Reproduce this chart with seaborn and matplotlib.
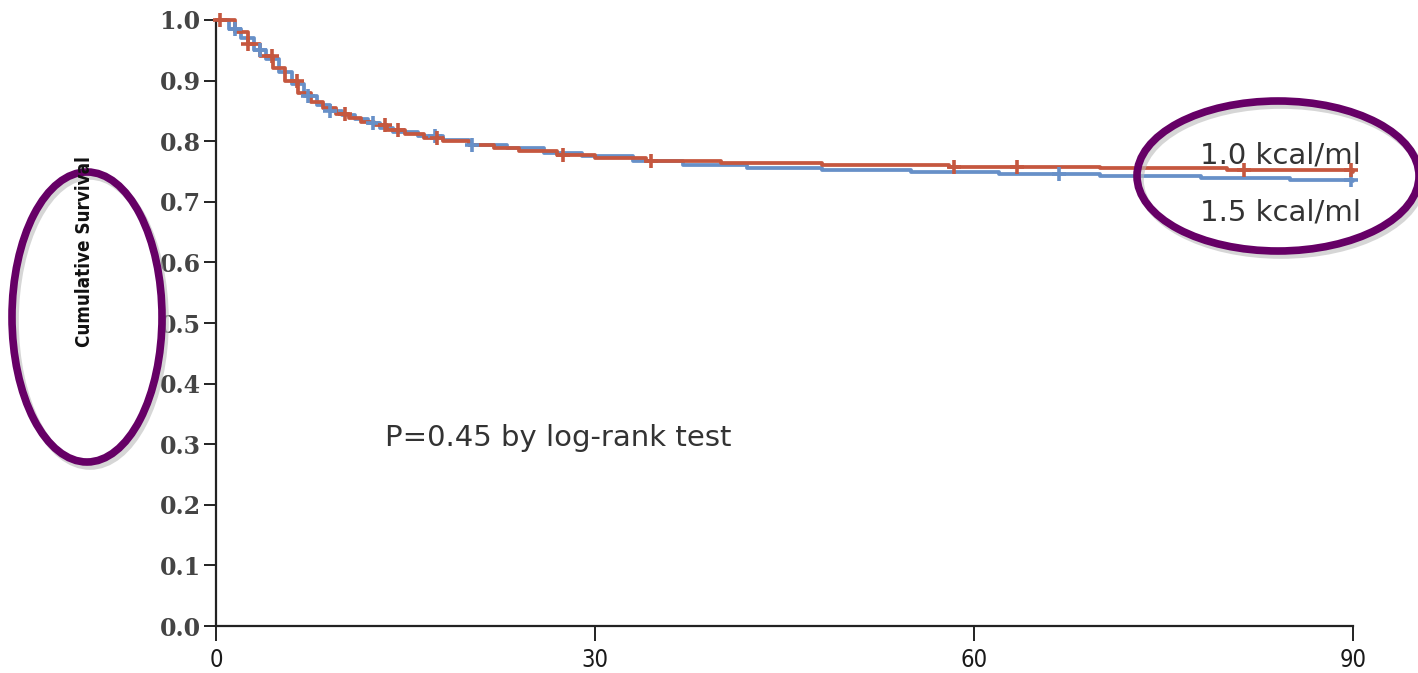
import numpy as np
import pandas as pd
import matplotlib
matplotlib.use("Agg")
import matplotlib.pyplot as plt
from matplotlib.patches import Ellipse
import seaborn as sns

# ---- data ----
groups = ["1.0 kcal/ml", "1.5 kcal/ml"]

red_days = [0, 1.5, 2.5, 3.5, 4.5, 5.5, 6.5, 7.5, 8.5, 9.5, 10.5, 11.5, 12.5, 13.5,
            15, 16.5, 18, 20, 22, 24, 27, 30, 34, 40, 48, 58, 70, 80, 90]
red_surv = [1.0, 0.98, 0.96, 0.94, 0.92, 0.90, 0.88, 0.865, 0.855, 0.845, 0.838, 0.832,
            0.826, 0.818, 0.812, 0.806, 0.800, 0.794, 0.789, 0.784, 0.778, 0.773, 0.768,
            0.764, 0.760, 0.757, 0.755, 0.752, 0.749]
blue_days = [0, 1, 2, 3, 4, 5, 6, 7, 8, 9, 10, 11, 12, 13, 14, 16, 18, 20, 23, 26, 29,
             33, 37, 42, 48, 55, 62, 70, 78, 85, 90]
blue_surv = [1.0, 0.985, 0.97, 0.95, 0.935, 0.915, 0.895, 0.875, 0.86, 0.85, 0.843,
             0.836, 0.83, 0.822, 0.815, 0.809, 0.802, 0.794, 0.788, 0.781, 0.775, 0.768,
             0.761, 0.756, 0.752, 0.749, 0.746, 0.742, 0.739, 0.736, 0.734]

red_censor = [0.3, 2.5, 4.4, 6.4, 10.2, 13.4, 14.4, 17.5, 27.5, 34.4, 58.4, 63.4, 81.4, 89.8]
blue_censor = [1.5, 3.5, 7.3, 9.0, 12.4, 17.3, 20.3, 66.7, 89.8]

x_ticks = [0, 30, 60, 90]
y_ticks = [0.0, 0.1, 0.2, 0.3, 0.4, 0.5, 0.6, 0.7, 0.8, 0.9, 1.0]
p_text = "P=0.45 by log-rank test"
y_label = "Cumulative Survival"

colors = {groups[0]: "#c5573f", groups[1]: "#6790c8"}

def step_at(days, surv, t):
    i = np.searchsorted(days, t, side="right") - 1
    return surv[i]

curves = pd.concat([
    pd.DataFrame({"day": red_days, "surv": red_surv, "group": groups[0]}),
    pd.DataFrame({"day": blue_days, "surv": blue_surv, "group": groups[1]}),
])
cens = pd.concat([
    pd.DataFrame({"day": red_censor,
                  "surv": [step_at(red_days, red_surv, t) for t in red_censor],
                  "group": groups[0]}),
    pd.DataFrame({"day": blue_censor,
                  "surv": [step_at(blue_days, blue_surv, t) for t in blue_censor],
                  "group": groups[1]}),
])

sns.set_style("ticks")
fig = plt.figure(figsize=(14.18, 6.73), dpi=100)
ax = fig.add_axes([0.1523, 0.0698, 0.8019, 0.9005])

order = [groups[1], groups[0]]
for g in order:
    sns.lineplot(data=curves[curves.group == g], x="day", y="surv", color=colors[g],
                 drawstyle="steps-post", estimator=None, linewidth=2.7, ax=ax,
                 legend=False)
    sns.scatterplot(data=cens[cens.group == g], x="day", y="surv", color=colors[g],
                    marker="+", s=100, linewidth=2.6, ax=ax, legend=False, zorder=4)

ax.set_xlim(0, 90)
ax.set_ylim(0, 1.0)
ax.set_xlabel("")
ax.set_ylabel("")
for s in ["top", "right"]:
    ax.spines[s].set_visible(False)
for s in ["left", "bottom"]:
    ax.spines[s].set_linewidth(1.6)
    ax.spines[s].set_color("#222222")
ax.tick_params(axis="y", length=9, width=1.4, color="#222222", pad=2)
ax.tick_params(axis="x", length=11, width=1.4, color="#222222", pad=5)
ax.set_xticks(x_ticks)
ax.set_yticks(y_ticks)
ax.set_xticklabels([str(v) for v in x_ticks])
ax.set_yticklabels([f"{v:.1f}" for v in y_ticks])
for lab in ax.get_xticklabels():
    lab.set_fontsize(17)
    lab.set_family("DejaVu Sans")
    lab.set_fontstretch("condensed")
    lab.set_color("#1a1a1a")
for lab in ax.get_yticklabels():
    lab.set_fontsize(17)
    lab.set_family("DejaVu Serif")
    lab.set_fontweight("bold")
    lab.set_color("#444444")
for art in ax.lines + ax.collections:
    art.set_clip_on(False)

ax.text(13.4, 0.31, p_text, fontsize=21, family=["DejaVu Sans"],
        color="#333333", va="center", ha="left")
ax.text(90.6, 0.776, groups[0], fontsize=21, family=["DejaVu Sans"],
        color="#333333", va="center", ha="right")
ax.text(90.6, 0.683, groups[1], fontsize=21, family=["DejaVu Sans"],
        color="#333333", va="center", ha="right")

# overlay for ylabel and highlight ellipses (pixel coords)
ov = fig.add_axes([0, 0, 1, 1], facecolor="none")
ov.set_xlim(0, 1418)
ov.set_ylim(673, 0)
ov.axis("off")
ov.text(84, 252, y_label, rotation=90, fontsize=13.5, fontweight="heavy",
        family="DejaVu Sans", fontstretch="condensed", color="#111111",
        ha="center", va="center")
for (cx, cy, w, h) in [(87, 317, 150, 290), (1278, 176, 282, 150)]:
    ov.add_patch(Ellipse((cx + 3, cy + 4), w, h, fill=False, lw=5.5,
                         edgecolor="#bbbbbb", alpha=0.6))
    ov.add_patch(Ellipse((cx, cy), w, h, fill=False, lw=5.5, edgecolor="#660066"))

fig.savefig("out.png", dpi=100)
